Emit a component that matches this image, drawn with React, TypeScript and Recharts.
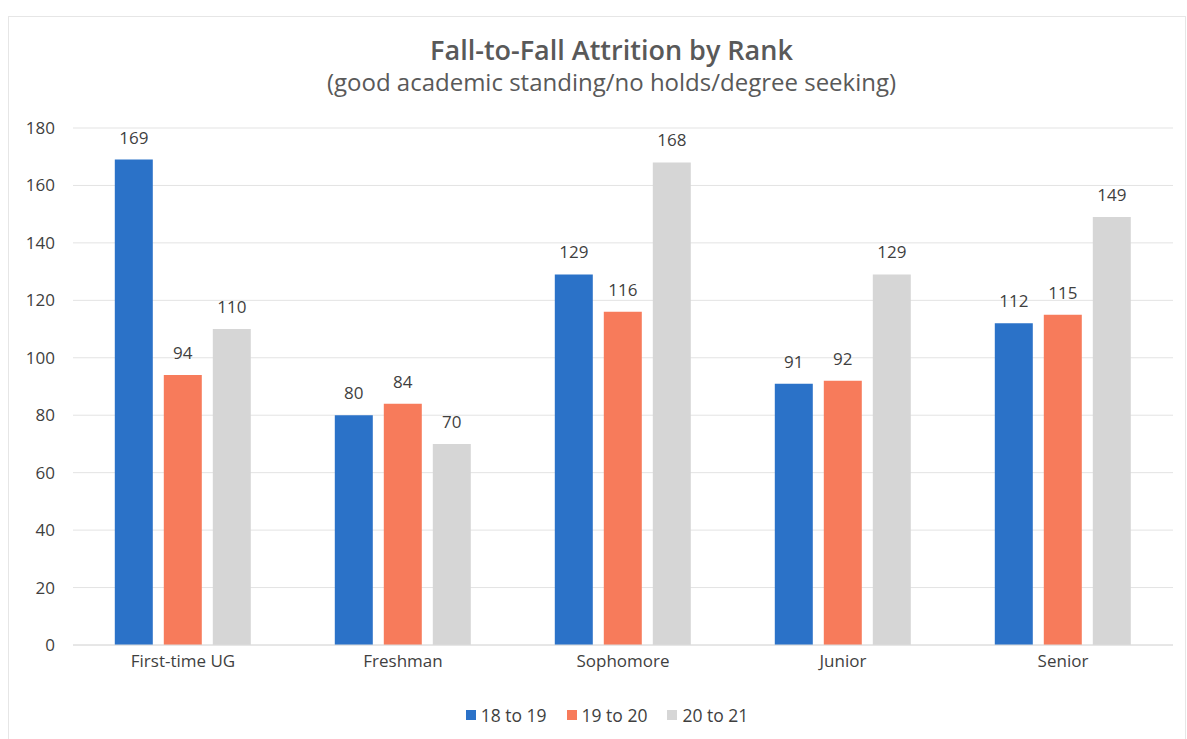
import {
  BarChart,
  Bar,
  XAxis,
  YAxis,
  CartesianGrid,
  Legend,
  LabelList,
} from 'recharts'

const RANKS = ['First-time UG', 'Freshman', 'Sophomore', 'Junior', 'Senior']
const Y_18_19 = [169, 80, 129, 91, 112]
const Y_19_20 = [94, 84, 116, 92, 115]
const Y_20_21 = [110, 70, 168, 129, 149]
const Y_TICKS = [0, 20, 40, 60, 80, 100, 120, 140, 160, 180]

const SERIES = [
  { key: 'a', name: '18 to 19', color: '#2b72c8' },
  { key: 'b', name: '19 to 20', color: '#f77b5b' },
  { key: 'c', name: '20 to 21', color: '#d6d6d6' },
]

const FONT = '"Open Sans", sans-serif'
const TEXT = '#3f3f3f'

const data = RANKS.map((rank, i) => ({
  rank,
  a: Y_18_19[i],
  b: Y_19_20[i],
  c: Y_20_21[i],
}))

function LegendRow() {
  return (
    <div
      style={{
        display: 'flex',
        justifyContent: 'center',
        gap: 20,
        paddingLeft: 27,
        fontFamily: FONT,
        fontSize: 17.5,
        color: TEXT,
      }}
    >
      {SERIES.map((s) => (
        <div key={s.key} style={{ display: 'flex', alignItems: 'center', gap: 5 }}>
          <span style={{ width: 10, height: 10, background: s.color, display: 'inline-block' }} />
          <span>{s.name}</span>
        </div>
      ))}
    </div>
  )
}

export default function App() {
  return (
    <div
      style={{
        position: 'absolute',
        left: 0,
        top: 0,
        width: 1187,
        height: 739,
        background: '#fff',
        overflow: 'hidden',
      }}
    >
      <div
        style={{
          position: 'absolute',
          left: 8,
          top: 16,
          width: 1176,
          height: 760,
          border: '1px solid #e6e6e6',
        }}
      />
      <div
        style={{
          position: 'absolute',
          left: 18,
          width: 1187,
          top: 34,
          textAlign: 'center',
          fontFamily: FONT,
          color: '#595959',
        }}
      >
        <div style={{ fontSize: 27, fontWeight: 600, lineHeight: '32px' }}>
          Fall-to-Fall Attrition by Rank
        </div>
        <div style={{ fontSize: 24, lineHeight: '32px' }}>
          (good academic standing/no holds/degree seeking)
        </div>
      </div>
      <BarChart
        width={1187}
        height={739}
        data={data}
        margin={{ top: 128, right: 14, left: 0, bottom: 54 }}
        barCategoryGap="19%"
        barGap={11}
        style={{ position: 'absolute', left: 0, top: 0 }}
      >
        <CartesianGrid vertical={false} stroke="#e3e3e3" />
        <XAxis
          dataKey="rank"
          height={40}
          axisLine={{ stroke: '#dcdcdc' }}
          tickLine={false}
          tickSize={0}
          tickMargin={10}
          tick={{ fill: TEXT, fontSize: 17, fontFamily: FONT }}
        />
        <YAxis
          width={73}
          domain={[0, 180]}
          ticks={Y_TICKS}
          axisLine={false}
          tickLine={false}
          tickSize={0}
          tickMargin={18}
          tick={{ fill: TEXT, fontSize: 17, fontFamily: FONT }}
        />
        <Legend
          verticalAlign="middle"
          align="center"
          layout="horizontal"
          wrapperStyle={{ top: 703, left: 0, width: 1187 }}
          content={() => <LegendRow />}
        />
        {SERIES.map((s) => (
          <Bar key={s.key} dataKey={s.key} name={s.name} fill={s.color} isAnimationActive={false}>
            <LabelList
              dataKey={s.key}
              position="top"
              offset={16}
              fill={TEXT}
              fontSize={17}
              fontFamily={FONT}
            />
          </Bar>
        ))}
      </BarChart>
    </div>
  )
}
